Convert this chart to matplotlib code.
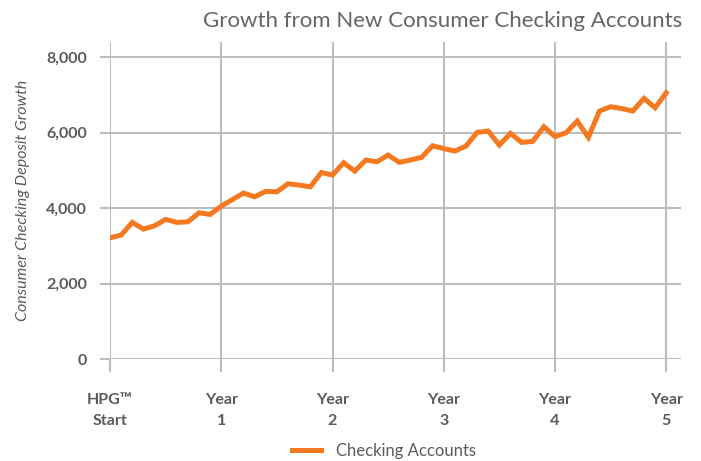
import matplotlib
matplotlib.use('Agg')
import matplotlib.pyplot as plt
import numpy as np

# Deposit growth, ten readings per year from HPG start to year 5
growth = [3213, 3285, 3621, 3444, 3531, 3701, 3621, 3637, 3875, 3833,
          4053, 4225, 4397, 4299, 4442, 4432, 4644, 4609, 4564, 4940,
          4874, 5200, 4980, 5272, 5227, 5404, 5211, 5272, 5343, 5650,
          5576, 5510, 5642, 6005, 6040, 5669, 5979, 5740, 5767, 6154,
          5894, 5995, 6305, 5873, 6570, 6684, 6636, 6570, 6906, 6657,
          7054]
years = np.linspace(0, 5, len(growth))

tick_pos = [0, 1, 2, 3, 4, 5]
tick_labels = ['HPG\u2122\nStart', 'Year\n1', 'Year\n2', 'Year\n3', 'Year\n4', 'Year\n5']
y_ticks = [0, 2000, 4000, 6000, 8000]

orange = '#F47920'
text_gray = '#5A5B5D'
grid_gray = '#BDBDBD'

plt.rcParams['font.family'] = ['Lato', 'DejaVu Sans']

fig = plt.figure(figsize=(7.01, 4.61), dpi=100)
ax = fig.add_axes([0.157, 0.221, 0.814, 0.688])

ax.plot(years, growth, color=orange, linewidth=3.6, solid_joinstyle='miter',
        label='Checking Accounts', zorder=3)

ax.set_xlim(0, 5.13)
ax.set_ylim(0, 8400)
ax.set_xticks(tick_pos)
ax.set_xticklabels(tick_labels, fontsize=11.5, fontweight='bold', color=text_gray,
                   linespacing=1.6)
ax.set_yticks(y_ticks)
ax.set_yticklabels([f'{v:,}' for v in y_ticks], fontsize=11.5, fontweight='bold',
                   color=text_gray)

ax.grid(True, color=grid_gray, linewidth=1.5)
ax.set_axisbelow(True)
for s in ax.spines.values():
    s.set_visible(False)
ax.tick_params(axis='x', length=9.5, width=1.5, color=grid_gray, pad=15)
ax.tick_params(axis='y', length=7.5, width=1.5, color=grid_gray, pad=9)

ax.set_ylabel('Consumer Checking Deposit Growth', fontsize=11.5, style='italic',
              color=text_gray, labelpad=12)

fig.text(0.631, 0.955, 'Growth from New Consumer Checking Accounts', ha='center',
         va='center', fontsize=16, color='#646567')

fig.legend(loc='center', bbox_to_anchor=(0.548, 0.022), frameon=False,
           fontsize=12, handlelength=1.7, handletextpad=0.9, labelcolor=text_gray)

fig.savefig('out.png', dpi=100)
